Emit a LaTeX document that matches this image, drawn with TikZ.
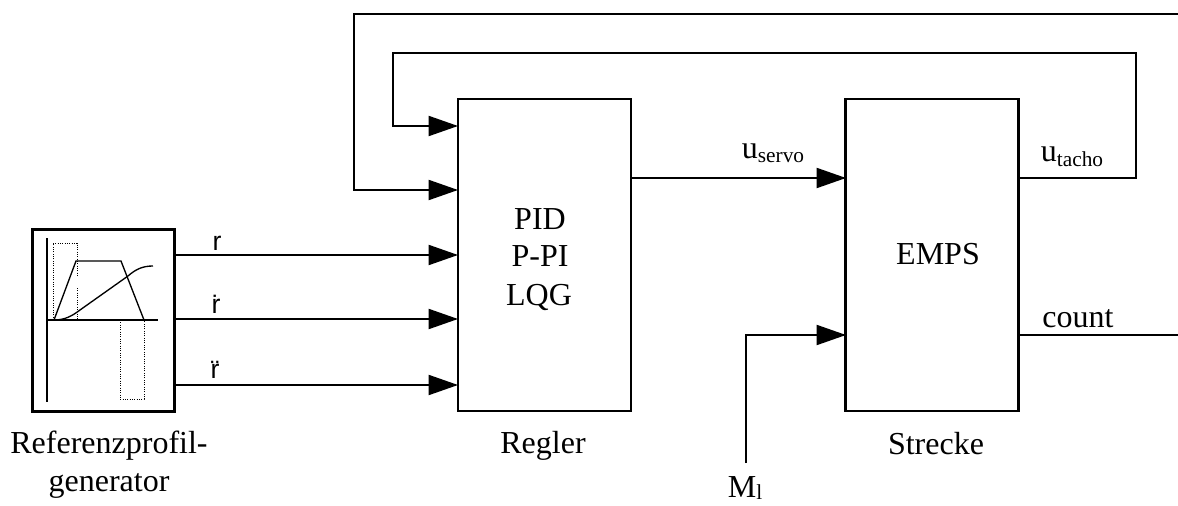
\documentclass[tikz,border=0pt]{standalone}
\usepackage{fontspec}
\setmainfont{Liberation Serif}
\newfontfamily\arialfont{Liberation Sans}
\usetikzlibrary{arrows.meta}
\newcommand{\subtxt}[1]{\raisebox{-3pt}{\fontsize{16}{16}\selectfont #1}}
\newsavebox{\rglyph}
\newcommand{\accr}[1]{\sbox{\rglyph}{r}\rlap{\raisebox{-0.06em}{\hbox to\wd\rglyph{\hss #1\hss}}}r}
\tikzset{
  px/.style={x=0.75pt,y=-0.75pt},
  block/.style={draw,line width=1.8pt,minimum width=129.75pt,minimum height=234pt,inner sep=0pt},
  genbox/.style={draw,line width=2.4pt,minimum width=107pt,minimum height=137pt,inner sep=0pt},
  conn/.style={line width=1.4pt,-{Triangle[length=22pt,width=15pt]}},
  wire/.style={line width=1.4pt},
  lab/.style={font=\fontsize{24}{28.5}\selectfont,inner sep=0pt,anchor=base},
  sanslab/.style={font=\arialfont\fontsize{20}{24}\selectfont,inner sep=0pt,anchor=base},
  thin curve/.style={line width=1pt},
  dots/.style={line width=0.75pt,densely dotted}
}
\begin{document}
\begin{tikzpicture}[px]
\useasboundingbox (0,0) rectangle (1178,506);
\node[genbox] (gen) at (103.5,320.5) {};
\node[block] (reg) at (544.5,255) {};
\node[block] (emps) at (932,255) {};
\node[lab] (pid) at (540,229) {PID};
\node[lab] (ppi) at (540,267) {P-PI};
\node[lab] (lqg) at (539,305) {LQG};
\node[lab] (empslab) at (938,264) {EMPS};
\node[lab] (genlaba) at (109,453) {Referenzprofil-};
\node[lab] (genlabb) at (109,491) {generator};
\node[lab] (reglab) at (543,453) {Regler};
\node[lab] (streckelab) at (936,454) {Strecke};
\node[lab] (ml) at (745,497) {M\raisebox{-2pt}{\fontsize{16}{16}\selectfont l}};
\coordinate (r1) at (175,255);
\coordinate (r2) at (175,319);
\coordinate (r3) at (175,385);
\coordinate (r1e) at (458,255);
\coordinate (r2e) at (458,319);
\coordinate (r3e) at (458,385);
\draw[conn] (r1) -- (r1e);
\draw[conn] (r2) -- (r2e);
\draw[conn] (r3) -- (r3e);
\node[sanslab] (lr) at (217,250) {r};
\node[sanslab] (lrd) at (216,313) {\accr{\char"02D9}};
\node[sanslab] (lrdd) at (215,378) {\accr{\char"00A8}};
\coordinate (s1) at (631,178);
\coordinate (s2) at (846,178);
\draw[conn] (s1) -- (s2);
\node[lab] (userv) at (773,159) {u\subtxt{servo}};
\coordinate (t1) at (1018,178);
\coordinate (t2) at (1136,178);
\coordinate (t3) at (1136,53);
\coordinate (t4) at (393,53);
\coordinate (t5) at (393,126);
\coordinate (t6) at (458,126);
\draw[conn] (t1) -- (t2) -- (t3) -- (t4) -- (t5) -- (t6);
\node[lab] (utach) at (1072,162) {u\subtxt{tacho}};
\coordinate (o1) at (1178,14);
\coordinate (o2) at (354,14);
\coordinate (o3) at (354,190);
\coordinate (o4) at (458,190);
\draw[conn] (o1) -- (o2) -- (o3) -- (o4);
\coordinate (c1) at (1018,335);
\coordinate (c2) at (1178,335);
\draw[wire] (c1) -- (c2);
\node[lab] (count) at (1078,327) {count};
\coordinate (m1) at (746,463);
\coordinate (m2) at (746,335);
\coordinate (m3) at (846,335);
\draw[conn] (m1) -- (m2) -- (m3);
% profile sketch
\draw[thin curve] (47,238) -- (47,402);
\draw[thin curve] (47,320) -- (158,320);
\draw[thin curve] (54,320) -- (76,261) -- (121,261) -- (144,320);
\draw[thin curve] (54,320) .. controls (65,320) and (72,316) .. (80,310) -- (128,276) .. controls (136,269) and (143,266) .. (153,266);
\draw[dots] (53,320) -- (53,243) -- (77,243) -- (77,277);
\draw[dots] (77,288) -- (77,320);
\draw[dots] (120,320) -- (120,399) -- (144,399) -- (144,320);
\end{tikzpicture}
\end{document}
